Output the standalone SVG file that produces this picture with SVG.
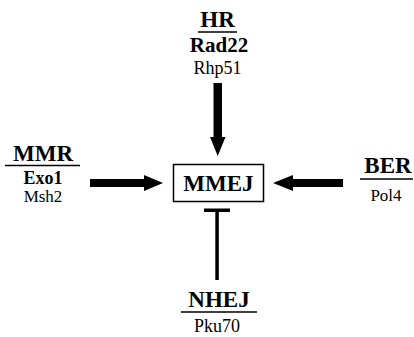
<svg xmlns="http://www.w3.org/2000/svg" width="414" height="337" viewBox="0 0 414 337">
<style>
text{font-family:'Liberation Serif','DejaVu Serif',serif;fill:#000;text-anchor:middle}
.h{font-size:23px;font-weight:bold}
.b{font-weight:bold}
.u{stroke:#000;stroke-width:1.5}
</style>
<rect width="414" height="337" fill="#fff"/>
<g id="HR">
<text class="h" x="217.5" y="27">HR</text>
<line class="u" x1="198" y1="32" x2="237" y2="32"/>
<text class="b" x="219" y="52" font-size="21">Rad22</text>
<text x="217.5" y="74" font-size="18">Rhp51</text>
</g>
<g id="MMR">
<text class="h" x="43" y="161">MMR</text>
<line class="u" x1="5" y1="165.5" x2="80" y2="165.5"/>
<text class="b" x="43" y="184" font-size="18">Exo1</text>
<text x="43" y="202" font-size="17">Msh2</text>
</g>
<g id="BER">
<text class="h" x="388" y="173">BER</text>
<line class="u" x1="360" y1="179" x2="413" y2="179"/>
<text x="386" y="201" font-size="17">Pol4</text>
</g>
<g id="NHEJ">
<text class="h" x="219" y="307">NHEJ</text>
<line class="u" x1="181" y1="312" x2="257" y2="312"/>
<text x="217" y="332" font-size="18">Pku70</text>
</g>
<g id="MMEJ">
<rect x="173.5" y="164.5" width="90" height="37" fill="#fff" stroke="#000" stroke-width="1.5"/>
<text class="h" x="218.5" y="191" font-size="24">MMEJ</text>
</g>
<g id="connectors" fill="#000">
<polygon points="213.5,83 222,83 222,137 225.5,137 217.75,156 210,137 213.5,137"/>
<polygon points="90,179 144,179 144,175 163,183 144,191 144,187 90,187"/>
<polygon points="343,179 293,179 293,175 273,183 293,191 293,187 343,187"/>
<rect x="215.3" y="210" width="3.5" height="70"/>
<rect x="204" y="208.5" width="26" height="3.5"/>
</g>
</svg>
